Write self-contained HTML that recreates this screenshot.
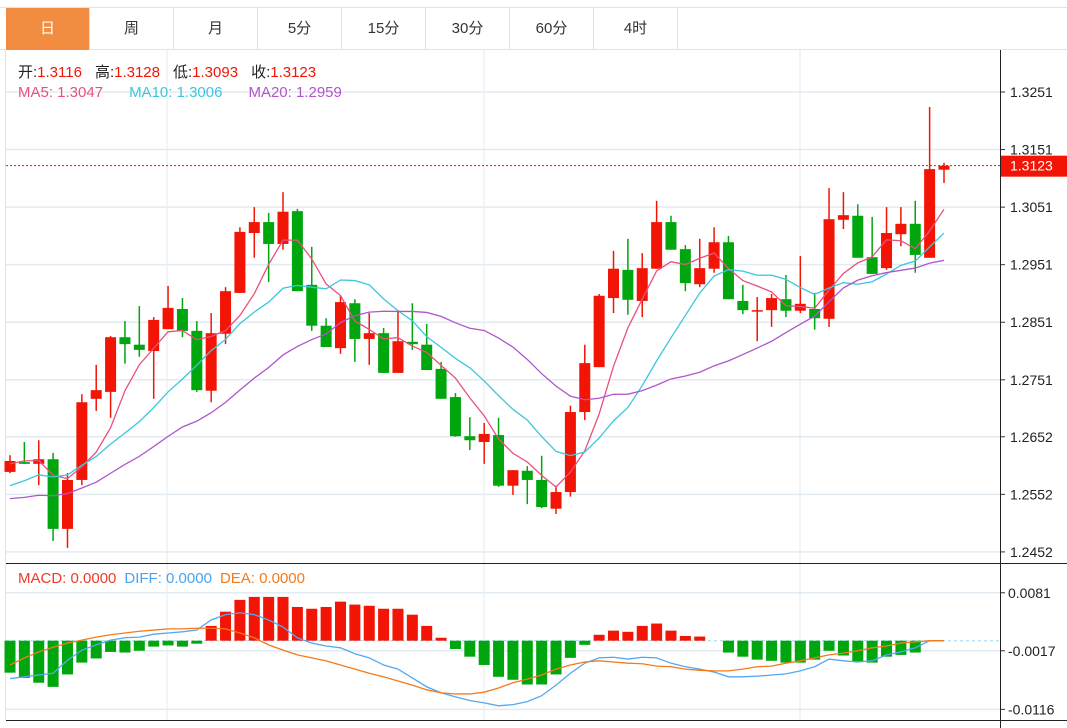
<!DOCTYPE html>
<html><head><meta charset="utf-8"><style>
body{margin:0;background:#fff;width:1067px;height:728px;overflow:hidden;font-family:"Liberation Sans","Noto Sans CJK SC",sans-serif}
#tabs{position:absolute;left:0;top:7px;width:1067px;height:43px;border-top:1px solid #dde3e8;border-bottom:1px solid #dde3e8;box-sizing:border-box}
.tab{position:absolute;top:0;height:42px;width:84px;border-right:1px solid #dde3e8;box-sizing:border-box;text-align:center;line-height:42px;font-size:15px;color:#333}
.tab.on{background:#f28c41;color:#fff}
</style></head><body>
<div id="tabs">
<div class="tab on" style="left:6px">日</div>
<div class="tab" style="left:90px">周</div>
<div class="tab" style="left:174px">月</div>
<div class="tab" style="left:258px">5分</div>
<div class="tab" style="left:342px">15分</div>
<div class="tab" style="left:426px">30分</div>
<div class="tab" style="left:510px">60分</div>
<div class="tab" style="left:594px">4时</div>
</div>
<svg id="chart" width="1067" height="728" style="position:absolute;left:0;top:0" xmlns="http://www.w3.org/2000/svg"></svg>
<script>
const history = [1.2560,1.2540,1.2510,1.2500,1.2520,1.2530,1.2515,1.2505,1.2525,1.2515,1.2520,1.2510,1.2530,1.2540,1.2545,1.2580,1.2610,1.2620,1.2606];
const opens = [1.2591,1.2608,1.2605,1.2613,1.2492,1.2577,1.2718,1.2730,1.2825,1.2812,1.2801,1.2839,1.2874,1.2836,1.2732,1.2831,1.2902,1.3006,1.3025,1.2987,1.3044,1.2916,1.2845,1.2806,1.2884,1.2822,1.2832,1.2763,1.2817,1.2812,1.2770,1.2721,1.2653,1.2643,1.2655,1.2567,1.2593,1.2577,1.2527,1.2556,1.2695,1.2773,1.2893,1.2942,1.2888,1.2944,1.3025,1.2978,1.2917,1.2944,1.2990,1.2888,1.2871,1.2872,1.2891,1.2871,1.2874,1.2857,1.3029,1.3036,1.2964,1.2945,1.3004,1.3022,1.2963,1.3116];
const closes = [1.2610,1.2605,1.2613,1.2492,1.2577,1.2712,1.2733,1.2825,1.2813,1.2803,1.2855,1.2876,1.2836,1.2733,1.2832,1.2905,1.3008,1.3025,1.2987,1.3043,1.2905,1.2845,1.2808,1.2886,1.2822,1.2832,1.2763,1.2818,1.2813,1.2768,1.2718,1.2653,1.2646,1.2657,1.2567,1.2594,1.2577,1.2530,1.2556,1.2695,1.2780,1.2897,1.2944,1.2890,1.2945,1.3025,1.2977,1.2919,1.2945,1.2990,1.2891,1.2872,1.2872,1.2893,1.2871,1.2883,1.2858,1.3030,1.3037,1.2963,1.2935,1.3006,1.3022,1.2968,1.3117,1.3123];
const highs = [1.2620,1.2643,1.2646,1.2624,1.2589,1.2726,1.2777,1.2827,1.2853,1.2879,1.2860,1.2914,1.2893,1.2853,1.2867,1.2912,1.3016,1.3051,1.3041,1.3077,1.3048,1.2982,1.2858,1.2897,1.2891,1.2867,1.2841,1.2872,1.2884,1.2848,1.2782,1.2728,1.2686,1.2676,1.2685,1.2594,1.2601,1.2619,1.2567,1.2706,1.2812,1.2900,1.2975,1.2996,1.2971,1.3062,1.3036,1.2985,1.2996,1.3016,1.3001,1.2916,1.2895,1.2900,1.2933,1.2966,1.2902,1.3084,1.3077,1.3056,1.3034,1.3051,1.3051,1.3062,1.3225,1.3128];
const lows = [1.2589,1.2605,1.2568,1.2471,1.2459,1.2568,1.2697,1.2685,1.2779,1.2791,1.2718,1.2839,1.2825,1.2730,1.2712,1.2813,1.2902,1.2963,1.2921,1.2977,1.2905,1.2836,1.2808,1.2796,1.2782,1.2777,1.2763,1.2763,1.2803,1.2768,1.2718,1.2652,1.2629,1.2605,1.2565,1.2551,1.2535,1.2528,1.2518,1.2548,1.2681,1.2773,1.2867,1.2864,1.2860,1.2944,1.2977,1.2905,1.2912,1.2937,1.2891,1.2865,1.2818,1.2843,1.2860,1.2867,1.2838,1.2843,1.3013,1.2963,1.2935,1.2942,1.2983,1.2937,1.2963,1.3093];
const macdHist = [-.0054,-.0063,-.0071,-.0078,-.0057,-.0037,-.0030,-.0019,-.0020,-.0017,-.0010,-.0008,-.0010,-.0005,.0025,.0049,.0069,.0074,.0074,.0074,.0057,.0054,.0057,.0066,.0061,.0059,.0054,.0054,.0044,.0025,.0005,-.0014,-.0027,-.0041,-.0061,-.0066,-.0074,-.0074,-.0057,-.0029,-.0007,.0010,.0017,.0015,.0025,.0029,.0017,.0008,.0007,0,-.0020,-.0027,-.0032,-.0034,-.0037,-.0037,-.0032,-.0017,-.0025,-.0035,-.0037,-.0027,-.0024,-.0020,0,0];
const diffVals = [-.0064,-.0061,-.0058,-.0055,-.0033,-.0016,-.0007,.0001,.0005,.0006,.0011,.0013,.0015,.0018,.0035,.0044,.0047,.0044,.0035,.0023,.0005,-.0004,-.0009,-.0012,-.0022,-.0029,-.0041,-.0048,-.0063,-.0078,-.0088,-.0095,-.0101,-.0105,-.0110,-.0108,-.0103,-.0093,-.0075,-.0055,-.0038,-.0029,-.0028,-.0031,-.0028,-.0029,-.0038,-.0044,-.0048,-.0053,-.0061,-.0061,-.0060,-.0058,-.0056,-.0051,-.0044,-.0031,-.0034,-.0036,-.0034,-.0024,-.0019,-.0012,0,0];
const deaVals = [-.0041,-.0029,-.0019,-.0011,-.0004,.0001,.0006,.0010,.0013,.0016,.0018,.0020,.0020,.0021,.0021,.0020,.0013,.0005,-.0007,-.0016,-.0024,-.0029,-.0034,-.0041,-.0048,-.0055,-.0061,-.0068,-.0075,-.0083,-.0088,-.0090,-.0090,-.0087,-.0080,-.0071,-.0065,-.0058,-.0048,-.0041,-.0036,-.0034,-.0036,-.0038,-.0039,-.0043,-.0044,-.0048,-.0050,-.0051,-.0051,-.0048,-.0044,-.0043,-.0038,-.0034,-.0029,-.0024,-.0021,-.0017,-.0012,-.0009,-.0004,-.0002,0,0];
const priceTicks = ["1.3251","1.3151","1.3051","1.2951","1.2851","1.2751","1.2652","1.2552","1.2452"];
const macdTicks = ["0.0081","-0.0017","-0.0116"];

const svg = document.getElementById('chart');
const NS = 'http://www.w3.org/2000/svg';
function mk(tag, attrs, parent){const e=document.createElementNS(NS,tag);for(const k in attrs)e.setAttribute(k,attrs[k]);(parent||svg).appendChild(e);return e;}
const RED='#f21505', GREEN='#00a60d';
const xOf = i => 10 + i*(934/(closes.length-1));
const yP = p => 92 + (1.3251 - p)*5756;
const yM = v => 640.7 - v*5918;

[167,484,800].forEach(x=>{const l=mk('line',{x1:x,y1:50,x2:x,y2:720,stroke:'#e3ebf2','stroke-width':1});

});
priceTicks.forEach(t=>{const y=yP(parseFloat(t));
const l=mk('line',{x1:6,y1:y,x2:1000,y2:y,stroke:'#e3ebf2','stroke-width':1.5});


mk('line',{x1:1000,y1:y,x2:1005,y2:y,stroke:'#333'});
const tx=mk('text',{x:1010,y:y+5,'font-size':14,fill:'#222'});tx.textContent=t;

});
[0.0081,-0.0017,-0.0116].forEach((v,k)=>{const y=yM(v);
const l=mk('line',{x1:6,y1:y,x2:1000,y2:y,stroke:'#e3ebf2','stroke-width':1.5});


mk('line',{x1:1000,y1:y,x2:1005,y2:y,stroke:'#333'});
const tx=mk('text',{x:1008,y:y+5,'font-size':14,fill:'#222'});tx.textContent=macdTicks[k];

});
mk('line',{x1:5.5,y1:50,x2:5.5,y2:720,stroke:'#dde3e8'});
mk('line',{x1:1000.5,y1:50,x2:1000.5,y2:728,stroke:'#222'});
mk('line',{x1:6,y1:563.5,x2:1067,y2:563.5,stroke:'#222'});
mk('line',{x1:6,y1:720.5,x2:1067,y2:720.5,stroke:'#222'});

closes.forEach((c,i)=>{const o=opens[i],up=c>=o,col=up?RED:GREEN,x=xOf(i);
const w=mk('line',{x1:x,y1:yP(highs[i]),x2:x,y2:yP(lows[i]),stroke:col,'stroke-width':1.5});


const t=yP(Math.max(o,c)),b=yP(Math.min(o,c));
const r=mk('rect',{x:x-5.5,y:t,width:11,height:Math.max(1.5,b-t),fill:col});

});

const all = history.concat(closes);
function ma(n){return closes.map((_,i)=>{const j=i+history.length;let s=0;for(let k=j-n+1;k<=j;k++)s+=all[k];return s/n;});}
[[5,'#e9507f','ma5-line'],[10,'#3cc6dc','ma10-line'],[20,'#b055cc','ma20-line']].forEach(([n,col,name])=>{
const pts=ma(n).map((v,i)=>xOf(i)+','+yP(v)).join(' ');
const pl=mk('polyline',{points:pts,fill:'none',stroke:col,'stroke-width':1.3});

});

const last=closes[closes.length-1];
const cl=mk('line',{x1:6,y1:yP(last),x2:1000,y2:yP(last),stroke:RED,'stroke-dasharray':'2,2'});


const cb=mk('rect',{x:1001,y:yP(last)-10,width:66,height:21,fill:RED});


const ct=mk('text',{x:1010,y:yP(last)+5,'font-size':14,fill:'#fff'});ct.textContent=last.toFixed(4);

const zl=mk('line',{x1:6,y1:yM(0),x2:1000,y2:yM(0),stroke:'#9fd8ea','stroke-dasharray':'3,3'});


macdHist.forEach((v,i)=>{const y0=yM(0),y1=yM(v);
const r=mk('rect',{x:xOf(i)-5.5,y:Math.min(y0,y1),width:11,height:Math.abs(y1-y0),fill:v>=0?RED:GREEN});

});
[[diffVals,'#55a8f0','diff-line'],[deaVals,'#f57a1a','dea-line']].forEach(([arr,col,name])=>{
const pl=mk('polyline',{points:arr.map((v,i)=>xOf(i)+','+yM(v)).join(' '),fill:'none',stroke:col,'stroke-width':1.3});

});

function legend(y,parts,name){const t=mk('text',{x:18,y:y,'font-size':15});


parts.forEach(([s,c,dx])=>{const sp=mk('tspan',{fill:c},t);if(dx)sp.setAttribute('dx',dx);sp.textContent=s;});}
legend(77,[['开:','#222'],['1.3116',RED],['高:','#222',13],['1.3128',RED],['低:','#222',13],['1.3093',RED],['收:','#222',13],['1.3123',RED]],'ohlc-legend');
legend(97,[['MA5: 1.3047','#e9507f'],['MA10: 1.3006','#3cc6dc',26],['MA20: 1.2959','#b055cc',26]],'ma-legend');
legend(583,[['MACD: 0.0000','#f03a2a'],['DIFF: 0.0000','#4aa3f0',8],['DEA: 0.0000','#f57a1a',8]],'macd-legend');
</script>
</body></html>
